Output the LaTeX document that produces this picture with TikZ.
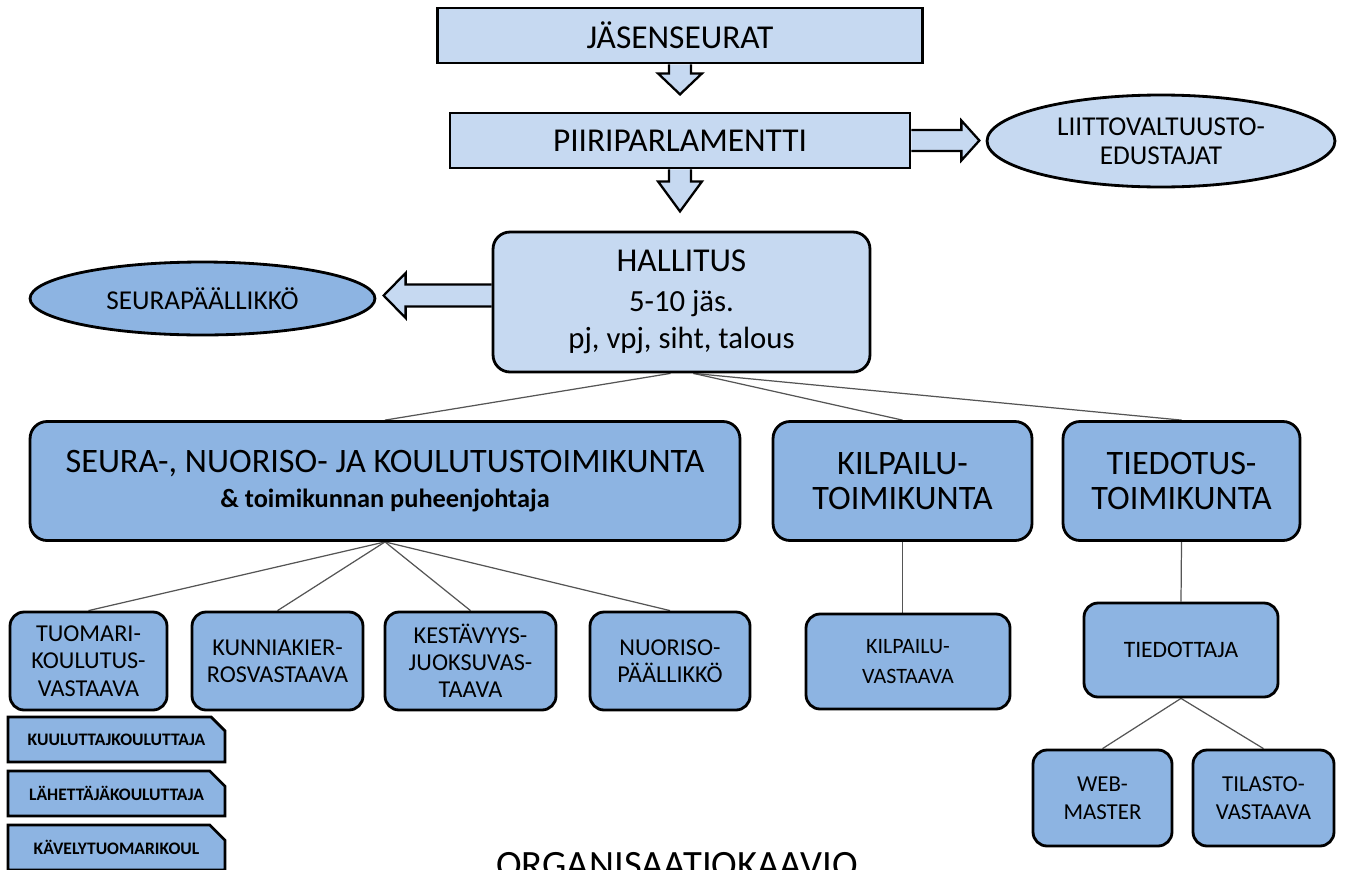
\documentclass[tikz,border=0pt]{standalone}
\usepackage{fontspec}
\setmainfont{Carlito}
\usepackage[]{xcolor}
\usepackage{tikz}
\usetikzlibrary{shapes.geometric,shapes.misc,backgrounds}
\definecolor{lightfill}{RGB}{198,217,241}
\definecolor{darkfill}{RGB}{141,180,226}
\definecolor{linkgray}{RGB}{85,85,85}
\tikzset{
    plainbox/.style={draw, line width=1.6pt, fill=lightfill, align=center, inner sep=0pt},
    roundbox/.style={plainbox, rounded corners=0.34cm},
    darkbox/.style={roundbox, fill=darkfill},
    smallbox/.style={darkbox, rounded corners=0.28cm},
    tabbox/.style={draw, line width=1.6pt, fill=darkfill, inner sep=0pt,
        chamfered rectangle, chamfered rectangle corners=north east,
        chamfered rectangle xsep=0.16cm, chamfered rectangle ysep=0.16cm,
        minimum width=4.34cm, minimum height=0.9cm,
        font=\bfseries\fontsize{10}{11}\selectfont},
    oval/.style={ellipse, draw, line width=1.6pt, align=center, inner sep=0pt},
    blockarrow/.style={draw, line width=1.3pt, fill=lightfill, line join=miter},
    link/.style={draw=linkgray, line width=0.7pt}
}
\begin{document}
\begin{tikzpicture}[x=0.02cm, y=-0.02cm]
    \useasboundingbox (0,0) rectangle (1345,869);
    \node[plainbox, minimum width=9.7cm, minimum height=1.1cm, font=\fontsize{19}{20}\selectfont] (jas) at (680,35.5) {JÄSENSEURAT};
    \node[plainbox, minimum width=9.2cm, minimum height=1.1cm, font=\fontsize{19}{20}\selectfont] (piiri) at (680,140.5) {PIIRIPARLAMENTTI};
    \node[oval, fill=lightfill, minimum width=6.96cm, minimum height=1.84cm, font=\fontsize{15.5}{16.5}\selectfont] (liitto) at (1161,141) {LIITTOVALTUUSTO-\\EDUSTAJAT};
    \node[roundbox, minimum width=7.54cm, minimum height=2.8cm, font=\fontsize{17.5}{21}\selectfont] (hall) at (681.5,302)
        {{\fontsize{19}{21}\selectfont HALLITUS}\\[1.5pt]5-10 jäs.\\pj, vpj, siht, talous};
    \node[oval, fill=darkfill, minimum width=6.9cm, minimum height=1.46cm, font=\fontsize{15.5}{17}\selectfont] (seurap) at (202.5,298.5) {SEURAPÄÄLLIKKÖ};

    \node[darkbox, minimum width=14.2cm, minimum height=2.38cm, font=\fontsize{15}{16.5}\selectfont] (seura) at (385,481)
        {{\fontsize{19.5}{22}\selectfont SEURA-, NUORISO- JA KOULUTUSTOIMIKUNTA}\\[3.5pt]{\bfseries \& toimikunnan puheenjohtaja}};
    \node[darkbox, minimum width=5.18cm, minimum height=2.38cm, font=\fontsize{19.5}{20}\selectfont] (kilp) at (902.5,481) {KILPAILU-\\TOIMIKUNTA};
    \node[darkbox, minimum width=4.74cm, minimum height=2.38cm, font=\fontsize{19.5}{20}\selectfont] (tied) at (1181.5,481) {TIEDOTUS-\\TOIMIKUNTA};

    \node[smallbox, minimum width=3.14cm, minimum height=1.96cm, font=\fontsize{13.8}{15.5}\selectfont] (tuom) at (88.5,661) {TUOMARI-\\KOULUTUS-\\VASTAAVA};
    \node[smallbox, minimum width=3.42cm, minimum height=1.96cm, font=\fontsize{13.8}{15.5}\selectfont] (kunn) at (277.5,661) {KUNNIAKIER-\\ROSVASTAAVA};
    \node[smallbox, minimum width=3.42cm, minimum height=1.96cm, font=\fontsize{13.8}{15.5}\selectfont] (kest) at (470.5,661) {KESTÄVYYS-\\JUOKSUVAS-\\TAAVA};
    \node[smallbox, minimum width=3.2cm, minimum height=1.96cm, font=\fontsize{13.8}{15.5}\selectfont] (nuor) at (670,661) {NUORISO-\\PÄÄLLIKKÖ};
    \node[smallbox, minimum width=4.08cm, minimum height=1.9cm, font=\fontsize{12.5}{17}\selectfont] (kvast) at (908,661.5) {KILPAILU-\\VASTAAVA};
    \node[smallbox, minimum width=3.88cm, minimum height=1.88cm, font=\fontsize{13.4}{15}\selectfont] (tiedottaja) at (1181,650) {TIEDOTTAJA};
    \node[smallbox, minimum width=2.78cm, minimum height=1.92cm, font=\fontsize{13}{16}\selectfont] (web) at (1102.5,798) {WEB-\\MASTER};
    \node[smallbox, minimum width=2.82cm, minimum height=1.92cm, font=\fontsize{13}{16}\selectfont] (tilasto) at (1263.5,798) {TILASTO-\\VASTAAVA};

    \node[tabbox] (kuul) at (116.5,739.5) {KUULUTTAJKOULUTTAJA};
    \node[tabbox] (lahe) at (116.5,793.5) {LÄHETTÄJÄKOULUTTAJA};
    \node[tabbox] (kave) at (116.5,847.5) {KÄVELYTUOMARIKOUL};

    \node[anchor=base, font=\fontsize{22}{24}\selectfont] (title) at (677,877) {ORGANISAATIOKAAVIO};

    \begin{scope}[on background layer]
        \draw[blockarrow] (jas.south) ++(-11,0) -- ++(0,9) -- ++(-11,0) -- ++(22,21) -- ++(22,-21) -- ++(-11,0) -- ++(0,-9);
        \draw[blockarrow] (piiri.south) ++(-11,0) -- ++(0,12) -- ++(-11,0) -- ++(22,30) -- ++(22,-30) -- ++(-11,0) -- ++(0,-12);
        \draw[blockarrow] (piiri.east) ++(0,-10.5) -- ++(50,0) -- ++(0,-9.5) -- ++(18,20) -- ++(-18,20) -- ++(0,-9.5) -- ++(-50,0);
        \draw[blockarrow] (hall.west) ++(0,-17.5) -- ++(-86,0) -- ++(0,-11.5) -- ++(-22,22.5) -- ++(22,22.5) -- ++(0,-11.5) -- ++(86,0);
        \draw[link] ([xshift=-0.22cm]hall.south) -- (seura.north);
        \draw[link] ([xshift=0.24cm]hall.south) -- (kilp.north);
        \draw[link] ([xshift=0.24cm]hall.south) -- (tied.north);
        \draw[link] (seura.south) -- (tuom.north);
        \draw[link] (seura.south) -- (kunn.north);
        \draw[link] (seura.south) -- (kest.north);
        \draw[link] (seura.south) -- (nuor.north);
        \draw[link] (kilp.south) -- (kilp.south |- kvast.north);
        \draw[link] (tied.south) -- (tiedottaja.north);
        \draw[link] (tiedottaja.south) -- (web.north);
        \draw[link] (tiedottaja.south) -- (tilasto.north);
    \end{scope}
\end{tikzpicture}
\end{document}
